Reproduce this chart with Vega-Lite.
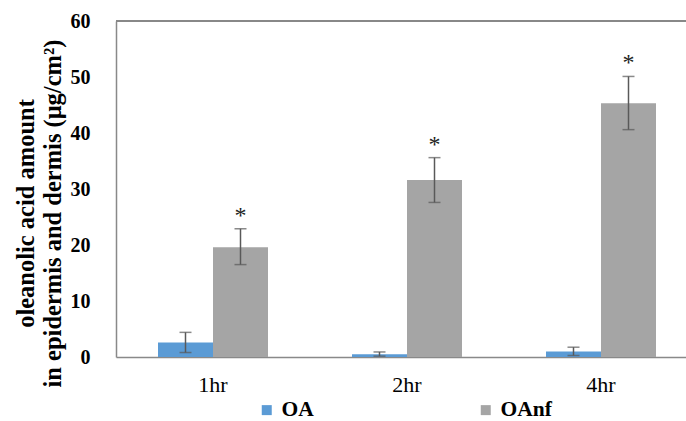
{
  "$schema": "https://vega.github.io/schema/vega-lite/v6.json",
  "width": 570,
  "height": 336,
  "autosize": {"type": "none"},
  "padding": {"left": 116, "top": 21, "right": 0, "bottom": 64},
  "config": {"view": {"stroke": null}, "font": "Liberation Serif"},
  "data": {
    "values": [
      {"time": "1hr", "group": "OA", "value": 2.6, "lo": 0.8, "hi": 4.4},
      {"time": "1hr", "group": "OAnf", "value": 19.6, "lo": 16.5, "hi": 22.9},
      {"time": "2hr", "group": "OA", "value": 0.5, "lo": 0.15, "hi": 0.9},
      {"time": "2hr", "group": "OAnf", "value": 31.6, "lo": 27.6, "hi": 35.6},
      {"time": "4hr", "group": "OA", "value": 1.0, "lo": 0.27, "hi": 1.75},
      {"time": "4hr", "group": "OAnf", "value": 45.3, "lo": 40.6, "hi": 50.1}
    ]
  },
  "layer": [
    {
      "mark": {"type": "bar"},
      "encoding": {
        "x": {
          "field": "time",
          "type": "nominal",
          "sort": ["1hr", "2hr", "4hr"],
          "scale": {"range": [0, 582], "paddingInner": 0.433, "paddingOuter": 0.2165},
          "axis": {
            "title": null,
            "ticks": false,
            "domainColor": "#898989",
            "domainWidth": 1.5,
            "labelFont": "Liberation Serif",
            "labelFontSize": 22,
            "labelColor": "black",
            "labelPadding": 17,
            "labelAngle": 0
          }
        },
        "xOffset": {"field": "group", "type": "nominal", "sort": ["OA", "OAnf"]},
        "y": {
          "field": "value",
          "type": "quantitative",
          "scale": {"domain": [0, 60], "nice": false},
          "axis": {
            "values": [0, 10, 20, 30, 40, 50, 60],
            "ticks": false,
            "grid": false,
            "domainColor": "#898989",
            "domainWidth": 1.5,
            "labelFont": "Liberation Serif",
            "labelFontSize": 20,
            "labelFontWeight": "bold",
            "labelColor": "black",
            "labelPadding": 26,
            "title": ["oleanolic  acid amount", "in epidermis and dermis (μg/cm²)"],
            "titleFont": "Liberation Serif",
            "titleFontSize": 24.5,
            "titleFontWeight": "bold",
            "titleColor": "black",
            "titleX": -90,
            "titleY": 192,
            "titleAngle": -90,
            "titleAlign": "center",
            "titleBaseline": "middle",
            "titleLineHeight": 27
          }
        },
        "color": {
          "field": "group",
          "type": "nominal",
          "scale": {"domain": ["OA", "OAnf"], "range": ["#5B9BD5", "#A5A5A5"]},
          "legend": {
            "orient": "none",
            "legendX": 140,
            "legendY": 378,
            "direction": "horizontal",
            "title": null,
            "symbolType": "square",
            "symbolSize": 100,
            "symbolStrokeWidth": 0,
            "labelFont": "Liberation Serif",
            "labelFontSize": 21.5,
            "labelFontWeight": "bold",
            "labelColor": "black",
            "labelOffset": 4,
            "columnPadding": 161
          }
        }
      }
    },
    {
      "mark": {"type": "rule", "color": "#595959", "strokeWidth": 1.5},
      "encoding": {
        "x": {"field": "time", "type": "nominal", "sort": ["1hr", "2hr", "4hr"]},
        "xOffset": {"field": "group", "type": "nominal", "sort": ["OA", "OAnf"]},
        "y": {"field": "lo", "type": "quantitative", "scale": {"domain": [0, 60], "nice": false}},
        "y2": {"field": "hi"}
      }
    },
    {
      "mark": {"type": "tick", "color": "#595959", "thickness": 1.5, "size": 12},
      "encoding": {
        "x": {"field": "time", "type": "nominal", "sort": ["1hr", "2hr", "4hr"]},
        "xOffset": {"field": "group", "type": "nominal", "sort": ["OA", "OAnf"]},
        "y": {"field": "lo", "type": "quantitative", "scale": {"domain": [0, 60], "nice": false}}
      }
    },
    {
      "mark": {"type": "tick", "color": "#595959", "thickness": 1.5, "size": 12},
      "encoding": {
        "x": {"field": "time", "type": "nominal", "sort": ["1hr", "2hr", "4hr"]},
        "xOffset": {"field": "group", "type": "nominal", "sort": ["OA", "OAnf"]},
        "y": {"field": "hi", "type": "quantitative", "scale": {"domain": [0, 60], "nice": false}}
      }
    },
    {
      "transform": [{"filter": "datum.group == 'OAnf'"}],
      "mark": {"type": "text", "text": "*", "font": "Liberation Serif", "fontSize": 24, "dy": -6, "baseline": "alphabetic", "color": "#222222"},
      "encoding": {
        "x": {"field": "time", "type": "nominal", "sort": ["1hr", "2hr", "4hr"]},
        "xOffset": {"field": "group", "type": "nominal", "sort": ["OA", "OAnf"]},
        "y": {"field": "hi", "type": "quantitative", "scale": {"domain": [0, 60], "nice": false}}
      }
    },
    {
      "mark": {"type": "rule", "color": "#898989", "strokeWidth": 1.5},
      "encoding": {
        "y": {"datum": 60, "type": "quantitative", "scale": {"domain": [0, 60], "nice": false}}
      }
    }
  ]
}
